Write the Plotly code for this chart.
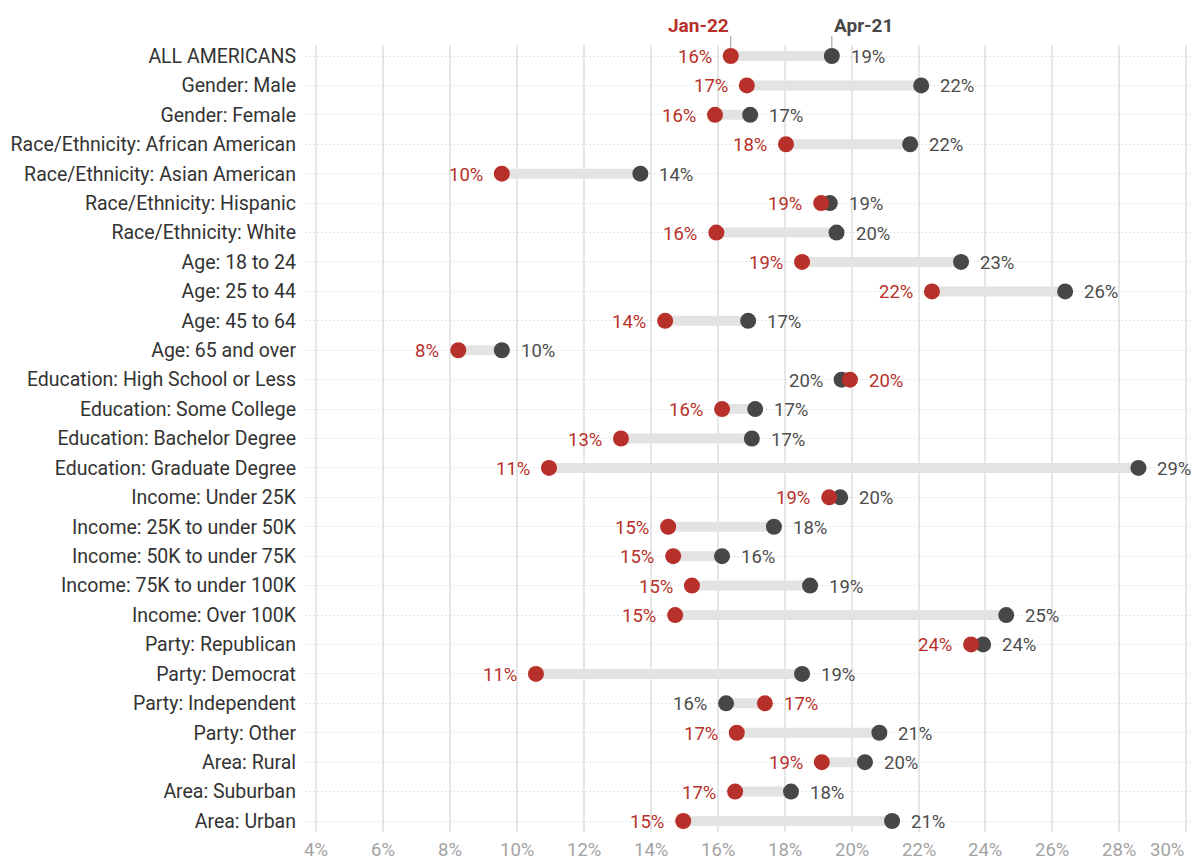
import plotly.graph_objects as go

# Share of respondents (%) by group, two survey waves
categories = [
    "ALL AMERICANS",
    "Gender: Male",
    "Gender: Female",
    "Race/Ethnicity: African American",
    "Race/Ethnicity: Asian American",
    "Race/Ethnicity: Hispanic",
    "Race/Ethnicity: White",
    "Age: 18 to 24",
    "Age: 25 to 44",
    "Age: 45 to 64",
    "Age: 65 and over",
    "Education: High School or Less",
    "Education: Some College",
    "Education: Bachelor Degree",
    "Education: Graduate Degree",
    "Income: Under 25K",
    "Income: 25K to under 50K",
    "Income: 50K to under 75K",
    "Income: 75K to under 100K",
    "Income: Over 100K",
    "Party: Republican",
    "Party: Democrat",
    "Party: Independent",
    "Party: Other",
    "Area: Rural",
    "Area: Suburban",
    "Area: Urban",
]

jan22 = [16.39, 16.87, 15.92, 18.04, 9.55, 19.09, 15.96, 18.52, 22.40, 14.43,
         8.25, 19.95, 16.13, 13.11, 10.96, 19.33, 14.52, 14.67, 15.23, 14.73,
         23.57, 10.57, 17.41, 16.57, 19.11, 16.52, 14.97]

apr21 = [19.41, 22.08, 16.97, 21.75, 13.69, 19.35, 19.55, 23.27, 26.38, 16.91,
         9.55, 19.70, 17.12, 17.02, 28.57, 19.66, 17.68, 16.13, 18.76, 24.62,
         23.93, 18.52, 16.25, 20.83, 20.40, 18.19, 21.21]

series_names = ["Jan-22", "Apr-21"]
tick_values = [4, 6, 8, 10, 12, 14, 16, 18, 20, 22, 24, 26, 28, 30]

RED = "#b8302a"
DARK = "#474747"
BAR = "#e3e3e3"
FONT = "Roboto"

rows = list(range(len(categories)))

fig = go.Figure()

# connecting bars
bx, by = [], []
for i, (a, b) in enumerate(zip(jan22, apr21)):
    bx += [a, b, None]
    by += [i, i, None]
fig.add_trace(go.Scatter(x=bx, y=by, mode="lines",
                         line=dict(color=BAR, width=10),
                         hoverinfo="skip", showlegend=False))

fig.add_trace(go.Scatter(x=apr21, y=rows, mode="markers", name=series_names[1],
                         marker=dict(color=DARK, size=16), showlegend=False))
fig.add_trace(go.Scatter(x=jan22, y=rows, mode="markers", name=series_names[0],
                         marker=dict(color=RED, size=16), showlegend=False))

annotations = []
for i, (a, b) in enumerate(zip(jan22, apr21)):
    red_right = a > b
    annotations.append(dict(
        x=a, y=i, xref="x", yref="y", text=f"{a:.0f}%", showarrow=False,
        xanchor="left" if red_right else "right",
        xshift=17 if red_right else -17, yshift=-1,
        font=dict(family=FONT, size=18.5, color=RED)))
    annotations.append(dict(
        x=b, y=i, xref="x", yref="y", text=f"{b:.0f}%", showarrow=False,
        xanchor="right" if red_right else "left",
        xshift=-17 if red_right else 17, yshift=-1,
        font=dict(family=FONT, size=18.5, color="#4d4d4d")))

# x tick labels; the last one is kept inside the frame
for v in tick_values:
    annotations.append(dict(
        x=v, y=0, xref="x", yref="paper", text=f"{v}%", showarrow=False,
        xanchor="right" if v == tick_values[-1] else "center",
        yanchor="middle", yshift=-18,
        font=dict(family=FONT, size=18.5, color="#a3a3a3")))

# series headers above the first row
annotations.append(dict(
    x=jan22[0], y=1, xref="x", yref="paper", text=f"<b>{series_names[0]}</b>",
    showarrow=False, xanchor="right", yanchor="middle", yshift=20,
    font=dict(family=FONT, size=19, color=RED)))
annotations.append(dict(
    x=apr21[0], y=1, xref="x", yref="paper", text=f"<b>{series_names[1]}</b>",
    showarrow=False, xanchor="left", yanchor="middle", yshift=20,
    font=dict(family=FONT, size=19, color=DARK)))

plot_h = 860 - 45 - 28
shapes = []
for v in (jan22[0], apr21[0]):
    shapes.append(dict(type="line", xref="x", yref="paper",
                       x0=v, x1=v, y0=1 - 3 / plot_h, y1=1 + 9 / plot_h,
                       line=dict(color="#999999", width=1)))

fig.update_layout(
    width=1193, height=860,
    margin=dict(l=306, r=0, t=45, b=28),
    paper_bgcolor="white", plot_bgcolor="white",
    font=dict(family=FONT, size=18.5, color="#333333"),
    annotations=annotations, shapes=shapes,
    hovermode="closest",
)
fig.update_xaxes(range=[3.70, 30.20], tick0=4, dtick=2, showticklabels=False,
                 showgrid=True, gridcolor="#e6e6e6", gridwidth=1.5,
                 zeroline=False, showline=False, ticks="")
fig.update_yaxes(range=[26.374, -0.374], tickmode="array", tickvals=rows,
                 ticktext=categories, showgrid=True, gridcolor="#cfcfcf",
                 griddash="1px,3px", gridwidth=1, zeroline=False,
                 showline=False, ticks="", ticklabelstandoff=9,
                 tickfont=dict(family=FONT, size=19.5, color="#333333"))

fig.write_html("out.html")
